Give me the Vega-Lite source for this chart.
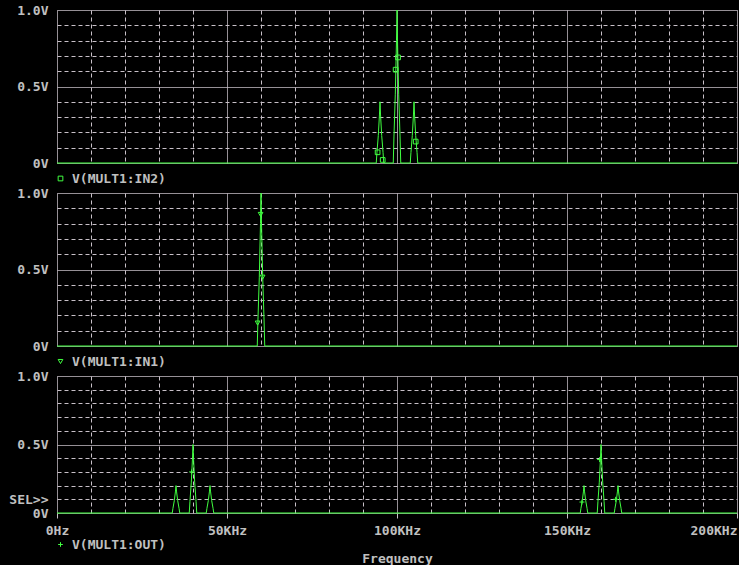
{
  "$schema": "https://vega.github.io/schema/vega-lite/v6.json",
  "background": "#000000",
  "padding": {"left": 8, "top": 4, "right": 0, "bottom": 0},
  "autosize": {"type": "pad"},
  "bounds": "flush",
  "spacing": 30,
  "config": {
    "view": {"stroke": null},
    "font": "DejaVu Sans Mono",
    "axis": {
      "labelFont": "DejaVu Sans Mono",
      "labelFontSize": 13,
      "labelFontWeight": "bold",
      "labelColor": "#c0c0c0",
      "titleFont": "DejaVu Sans Mono",
      "titleFontSize": 13,
      "titleFontWeight": "bold",
      "titleColor": "#c0c0c0",
      "domain": false,
      "gridColor": "#c8c0c8",
      "gridOpacity": 1,
      "gridWidth": 1,
      "labelOverlap": false,
      "labelBound": false,
      "tickCount": 100
    },
    "legend": {
      "orient": "none",
      "legendX": -3,
      "legendY": 162,
      "padding": 0,
      "title": null,
      "labelFont": "DejaVu Sans Mono",
      "labelFontSize": 13,
      "labelFontWeight": "bold",
      "labelColor": "#c0c0c0",
      "labelOffset": 5,
      "symbolSize": 22,
      "symbolStrokeWidth": 1,
      "symbolStrokeColor": "#40ff40",
      "symbolFillColor": "transparent"
    }
  },
  "datasets": {
    "in2": [
      {"f": 0, "v": 0}, {"f": 93.9, "v": 0}, {"f": 94.1, "v": 0.068}, {"f": 94.5, "v": 0.18}, {"f": 94.85, "v": 0.32}, {"f": 95, "v": 0.4}, {"f": 95.15, "v": 0.32}, {"f": 95.5, "v": 0.18}, {"f": 95.9, "v": 0.068}, {"f": 96.1, "v": 0},
      {"f": 98.9, "v": 0}, {"f": 99.1, "v": 0.17}, {"f": 99.5, "v": 0.45}, {"f": 99.85, "v": 0.8}, {"f": 100, "v": 1}, {"f": 100.15, "v": 0.8}, {"f": 100.5, "v": 0.45}, {"f": 100.9, "v": 0.17}, {"f": 101.1, "v": 0},
      {"f": 103.9, "v": 0}, {"f": 104.1, "v": 0.068}, {"f": 104.5, "v": 0.18}, {"f": 104.85, "v": 0.32}, {"f": 105, "v": 0.4}, {"f": 105.15, "v": 0.32}, {"f": 105.5, "v": 0.18}, {"f": 105.9, "v": 0.068}, {"f": 106.1, "v": 0},
      {"f": 200, "v": 0}
    ],
    "in2m": [
      {"f": 94.3, "v": 0.07}, {"f": 95.8, "v": 0.02}, {"f": 99.6, "v": 0.61}, {"f": 100.3, "v": 0.69}, {"f": 105.5, "v": 0.14}
    ],
    "in1": [
      {"f": 0, "v": 0}, {"f": 58.9, "v": 0}, {"f": 59.1, "v": 0.17}, {"f": 59.5, "v": 0.45}, {"f": 59.85, "v": 0.8}, {"f": 60, "v": 1}, {"f": 60.15, "v": 0.8}, {"f": 60.5, "v": 0.45}, {"f": 60.9, "v": 0.17}, {"f": 61.1, "v": 0}, {"f": 200, "v": 0}
    ],
    "in1m": [
      {"f": 59.88, "v": 0.86}, {"f": 60.47, "v": 0.45}, {"f": 59.0, "v": 0.15}
    ],
    "out": [
      {"f": 0, "v": 0},
      {"f": 33.9, "v": 0}, {"f": 34.1, "v": 0.034}, {"f": 34.5, "v": 0.09}, {"f": 34.85, "v": 0.16}, {"f": 35, "v": 0.2}, {"f": 35.15, "v": 0.16}, {"f": 35.5, "v": 0.09}, {"f": 35.9, "v": 0.034}, {"f": 36.1, "v": 0},
      {"f": 38.9, "v": 0}, {"f": 39.1, "v": 0.085}, {"f": 39.5, "v": 0.225}, {"f": 39.85, "v": 0.4}, {"f": 40, "v": 0.5}, {"f": 40.15, "v": 0.4}, {"f": 40.5, "v": 0.225}, {"f": 40.9, "v": 0.085}, {"f": 41.1, "v": 0},
      {"f": 43.9, "v": 0}, {"f": 44.1, "v": 0.034}, {"f": 44.5, "v": 0.09}, {"f": 44.85, "v": 0.16}, {"f": 45, "v": 0.2}, {"f": 45.15, "v": 0.16}, {"f": 45.5, "v": 0.09}, {"f": 45.9, "v": 0.034}, {"f": 46.1, "v": 0},
      {"f": 153.9, "v": 0}, {"f": 154.1, "v": 0.034}, {"f": 154.5, "v": 0.09}, {"f": 154.85, "v": 0.16}, {"f": 155, "v": 0.2}, {"f": 155.15, "v": 0.16}, {"f": 155.5, "v": 0.09}, {"f": 155.9, "v": 0.034}, {"f": 156.1, "v": 0},
      {"f": 158.9, "v": 0}, {"f": 159.1, "v": 0.085}, {"f": 159.5, "v": 0.225}, {"f": 159.85, "v": 0.4}, {"f": 160, "v": 0.5}, {"f": 160.15, "v": 0.4}, {"f": 160.5, "v": 0.225}, {"f": 160.9, "v": 0.085}, {"f": 161.1, "v": 0},
      {"f": 163.9, "v": 0}, {"f": 164.1, "v": 0.034}, {"f": 164.5, "v": 0.09}, {"f": 164.85, "v": 0.16}, {"f": 165, "v": 0.2}, {"f": 165.15, "v": 0.16}, {"f": 165.5, "v": 0.09}, {"f": 165.9, "v": 0.034}, {"f": 166.1, "v": 0},
      {"f": 200, "v": 0}
    ],
    "outm": [
      {"f": 39.6, "v": 0.3}, {"f": 154.4, "v": 0.08}, {"f": 159.6, "v": 0.39}, {"f": 164.3, "v": 0.1}
    ]
  },
  "resolve": {
    "scale": {"shape": "independent", "x": "independent", "y": "independent"},
    "legend": {"shape": "independent"}
  },
  "vconcat": [
    {
      "width": 680,
      "height": 153,
      "layer": [
        {
          "data": {"name": "in2"},
          "mark": {"type": "line", "color": "#40ff40", "strokeWidth": 1},
          "encoding": {
            "x": {"field": "f", "type": "quantitative", "scale": {"domain": [0, 200], "nice": false, "zero": false},
              "axis": {"values": [0,10,20,30,40,50,60,70,80,90,100,110,120,130,140,150,160,170,180,190,200], "tickCount": 100, "labels": false, "ticks": false, "title": null,
                "gridDash": {"condition": {"test": "datum.value % 50 === 0", "value": [1, 0]}, "value": [4, 3]}}},
            "y": {"field": "v", "type": "quantitative", "scale": {"domain": [0, 1], "nice": false},
              "axis": {"values": [0,0.1,0.2,0.3,0.4,0.5,0.6,0.7,0.8,0.9,1], "tickCount": 100, "title": null, "ticks": false, "labelPadding": 9,
                "labelExpr": "datum.value === 0 ? '0V' : datum.value === 0.5 ? '0.5V' : datum.value === 1 ? '1.0V' : ''",
                "gridDash": {"condition": {"test": "datum.value === 0 || datum.value === 0.5 || datum.value === 1", "value": [1, 0]}, "value": [4, 3]}}}
          }
        },
        {
          "data": {"name": "in2m"},
          "mark": {"type": "point", "filled": false, "size": 22, "strokeWidth": 1, "color": "#40ff40", "opacity": 1},
          "encoding": {
            "x": {"field": "f", "type": "quantitative"},
            "y": {"field": "v", "type": "quantitative"},
            "shape": {"datum": "V(MULT1:IN2)", "type": "nominal", "scale": {"range": ["square"]}}
          }
        }
      ]
    },
    {
      "width": 680,
      "height": 153,
      "layer": [
        {
          "data": {"name": "in1"},
          "mark": {"type": "line", "color": "#40ff40", "strokeWidth": 1},
          "encoding": {
            "x": {"field": "f", "type": "quantitative", "scale": {"domain": [0, 200], "nice": false, "zero": false},
              "axis": {"values": [0,10,20,30,40,50,60,70,80,90,100,110,120,130,140,150,160,170,180,190,200], "tickCount": 100, "labels": false, "ticks": false, "title": null,
                "gridDash": {"condition": {"test": "datum.value % 50 === 0", "value": [1, 0]}, "value": [4, 3]}}},
            "y": {"field": "v", "type": "quantitative", "scale": {"domain": [0, 1], "nice": false},
              "axis": {"values": [0,0.1,0.2,0.3,0.4,0.5,0.6,0.7,0.8,0.9,1], "tickCount": 100, "title": null, "ticks": false, "labelPadding": 9,
                "labelExpr": "datum.value === 0 ? '0V' : datum.value === 0.5 ? '0.5V' : datum.value === 1 ? '1.0V' : ''",
                "gridDash": {"condition": {"test": "datum.value === 0 || datum.value === 0.5 || datum.value === 1", "value": [1, 0]}, "value": [4, 3]}}}
          }
        },
        {
          "data": {"name": "in1m"},
          "mark": {"type": "point", "filled": false, "size": 22, "strokeWidth": 1, "color": "#40ff40", "opacity": 1},
          "encoding": {
            "x": {"field": "f", "type": "quantitative"},
            "y": {"field": "v", "type": "quantitative"},
            "shape": {"datum": "V(MULT1:IN1)", "type": "nominal", "scale": {"range": ["triangle-down"]}}
          }
        }
      ]
    },
    {
      "width": 680,
      "height": 137,
      "layer": [
        {
          "data": {"name": "out"},
          "mark": {"type": "line", "color": "#40ff40", "strokeWidth": 1},
          "encoding": {
            "x": {"field": "f", "type": "quantitative", "scale": {"domain": [0, 200], "nice": false, "zero": false},
              "axis": {"values": [0,10,20,30,40,50,60,70,80,90,100,110,120,130,140,150,160,170,180,190,200], "tickCount": 100,
                "title": "Frequency", "titleY": 39, "titleBaseline": "top",
                "labelExpr": "datum.value === 0 ? '0Hz' : datum.value % 50 === 0 ? datum.value + 'KHz' : ''",
                "labelAlign": {"condition": {"test": "datum.value === 200", "value": "right"}, "value": "center"},
                "labelPadding": 6,
                "tickSize": 5, "tickColor": "#c8c0c8",
                "tickOpacity": {"condition": {"test": "datum.value % 50 === 0", "value": 1}, "value": 0},
                "gridDash": {"condition": {"test": "datum.value % 50 === 0", "value": [1, 0]}, "value": [4, 3]}}},
            "y": {"field": "v", "type": "quantitative", "scale": {"domain": [0, 1], "nice": false},
              "axis": {"values": [0,0.1,0.2,0.3,0.4,0.5,0.6,0.7,0.8,0.9,1], "tickCount": 100, "title": null, "ticks": false, "labelPadding": 9,
                "labelExpr": "datum.value === 0 ? '0V' : datum.value === 0.1 ? 'SEL>>' : datum.value === 0.5 ? '0.5V' : datum.value === 1 ? '1.0V' : ''",
                "gridDash": {"condition": {"test": "datum.value === 0 || datum.value === 0.5 || datum.value === 1", "value": [1, 0]}, "value": [4, 3]}}}
          }
        },
        {
          "data": {"name": "outm"},
          "mark": {"type": "point", "filled": false, "size": 25, "strokeWidth": 1, "color": "#40ff40", "opacity": 1},
          "encoding": {
            "x": {"field": "f", "type": "quantitative"},
            "y": {"field": "v", "type": "quantitative"},
            "shape": {"datum": "V(MULT1:OUT)", "type": "nominal", "scale": {"range": ["M-1,0H1M0,-1V1"]}}
          }
        }
      ]
    }
  ]
}
